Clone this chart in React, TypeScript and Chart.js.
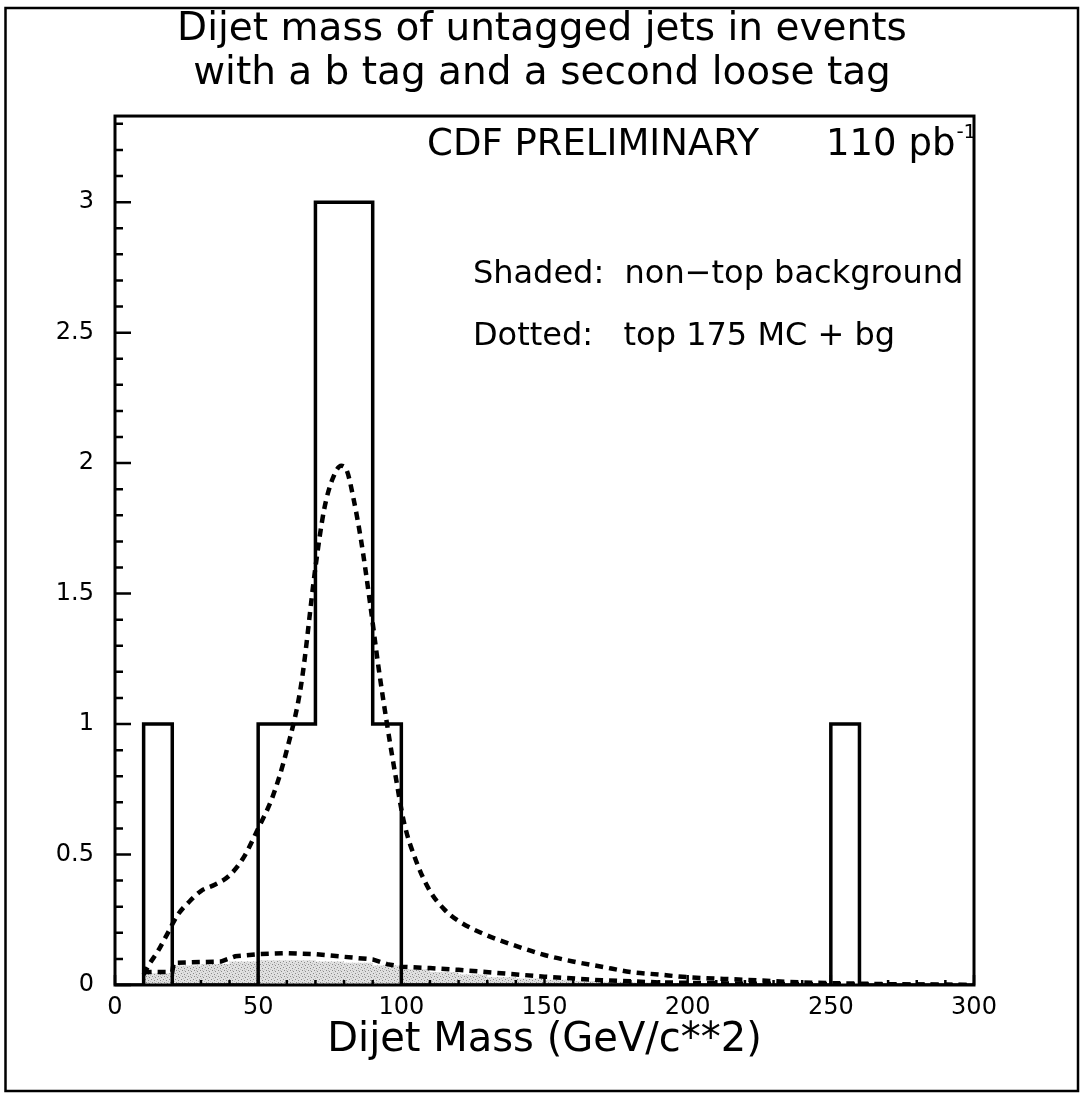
import React, { useEffect, useRef } from 'react';
import { Chart, registerables } from 'chart.js';

Chart.register(...registerables);

// ---------- data ----------
const binLeftEdges = [0, 10, 20, 30, 40, 50, 60, 70, 80, 90, 100, 110, 120, 130, 140, 150, 160, 170, 180, 190, 200, 210, 220, 230, 240, 250, 260, 270, 280, 290];
const binUpperEdge = 300;
const observedCounts = [0, 1, 0, 0, 0, 1, 1, 3, 3, 1, 0, 0, 0, 0, 0, 0, 0, 0, 0, 0, 0, 0, 0, 0, 0, 1, 0, 0, 0, 0];
const nonTopBackground = [0, 0.045, 0.075, 0.08, 0.09, 0.095, 0.095, 0.09, 0.085, 0.075, 0.06, 0.05, 0.04, 0.03, 0.025, 0.02, 0.015, 0.012, 0.01, 0.008, 0.006, 0.005, 0.004, 0.003, 0.003, 0.002, 0.002, 0.001, 0.001, 0];

const topMcMass = [10, 12, 15, 18, 22, 26, 30, 35, 40, 45, 50, 55, 60, 65, 70, 73, 76, 79, 81, 83, 86, 89, 92, 95, 98, 101, 105, 110, 115, 120, 130, 140, 150, 160, 170, 180, 190, 200, 220, 240, 260, 280, 300];
const topMcPlusBg = [0.04, 0.08, 0.13, 0.19, 0.27, 0.32, 0.36, 0.385, 0.42, 0.49, 0.6, 0.72, 0.9, 1.15, 1.6, 1.82, 1.94, 1.99, 1.97, 1.88, 1.7, 1.47, 1.22, 1.0, 0.8, 0.62, 0.48, 0.36, 0.29, 0.245, 0.19, 0.15, 0.115, 0.09, 0.07, 0.05, 0.04, 0.03, 0.02, 0.01, 0.005, 0.002, 0];

const bgMass = [10, 20, 20.5, 30, 37, 42, 50, 60, 70, 80, 90, 95, 100, 110, 120, 135, 150, 170, 190, 220, 260, 300];
const bgCurve = [0.05, 0.05, 0.085, 0.088, 0.09, 0.11, 0.118, 0.122, 0.118, 0.108, 0.098, 0.08, 0.07, 0.065, 0.058, 0.045, 0.032, 0.018, 0.01, 0.005, 0.002, 0];

const titleLines = ['Dijet mass of untagged jets in events', 'with a b tag and a second loose tag'];
const xAxisTitle = 'Dijet Mass (GeV/c**2)';
const prelimText = 'CDF PRELIMINARY';
const lumiText = '110 pb';
const lumiExp = '-1';
const legendShaded = 'Shaded:  non\u2212top background';
const legendDotted = 'Dotted:   top 175 MC + bg';

const FONT = '"DejaVu Sans", sans-serif';

function stepPoints(edges: number[], vals: number[], upper: number) {
  const pts = edges.map((e, i) => ({ x: e, y: vals[i] }));
  pts.push({ x: upper, y: vals[vals.length - 1] });
  return pts;
}

function makePattern(): CanvasPattern | string {
  const c = document.createElement('canvas');
  c.width = 6;
  c.height = 6;
  const g = c.getContext('2d');
  if (!g) return '#d0d0d0';
  g.fillStyle = '#e0e0e0';
  g.fillRect(0, 0, 6, 6);
  g.fillStyle = '#8a8a8a';
  g.fillRect(1, 1, 1, 1);
  g.fillRect(4, 2, 1, 1);
  g.fillRect(2, 4, 1, 1);
  g.fillRect(5, 5, 1, 1);
  g.fillStyle = '#bdbdbd';
  g.fillRect(3, 0, 1, 1);
  g.fillRect(0, 3, 1, 1);
  g.fillRect(4, 4, 1, 1);
  const p = g.createPattern(c, 'repeat');
  return p || '#d0d0d0';
}

const decorPlugin = {
  id: 'decor',
  afterDraw(chart: any) {
    const { ctx, chartArea: a, scales } = chart;
    const x = scales.x;
    const y = scales.y;
    ctx.save();
    ctx.strokeStyle = '#000';
    ctx.fillStyle = '#000';
    // outer frame
    ctx.lineWidth = 2.5;
    ctx.strokeRect(5.5, 8, 1072.5, 1083);
    // plot box
    ctx.lineWidth = 3;
    ctx.strokeRect(a.left, a.top, a.right - a.left, a.bottom - a.top);
    // y ticks (inward)
    ctx.lineWidth = 2.5;
    ctx.beginPath();
    for (let i = 0; i <= 33; i++) {
      const py = y.getPixelForValue(i / 10);
      const len = i % 5 === 0 ? 16 : 8;
      ctx.moveTo(a.left, py);
      ctx.lineTo(a.left + len, py);
    }
    // x ticks (inward)
    for (let v = 0; v <= 300; v += 10) {
      const px = x.getPixelForValue(v);
      const len = v % 50 === 0 ? 10 : 5;
      ctx.moveTo(px, a.bottom);
      ctx.lineTo(px, a.bottom - len);
    }
    ctx.stroke();
    // texts
    ctx.textBaseline = 'alphabetic';
    ctx.textAlign = 'left';
    ctx.font = `37px ${FONT}`;
    ctx.fillText(prelimText, x.getPixelForValue(109), a.top + 39);
    ctx.textAlign = 'right';
    ctx.fillText(lumiText, x.getPixelForValue(293.5), a.top + 39);
    ctx.textAlign = 'left';
    ctx.font = `20px ${FONT}`;
    ctx.fillText(lumiExp, x.getPixelForValue(293.5) + 1, a.top + 22);
    ctx.font = `32px ${FONT}`;
    ctx.fillText(legendShaded, x.getPixelForValue(125), a.top + 167);
    ctx.fillText(legendDotted, x.getPixelForValue(125), a.top + 229);
    ctx.restore();
  },
};

export default function App() {
  const ref = useRef<HTMLCanvasElement | null>(null);

  useEffect(() => {
    if (!ref.current) return;
    const pattern = makePattern();
    const chart = new Chart(ref.current, {
      type: 'line',
      data: {
        datasets: [
          {
            label: 'Data',
            data: stepPoints(binLeftEdges, observedCounts, binUpperEdge),
            stepped: true,
            borderColor: '#000',
            borderWidth: 3.5,
            pointRadius: 0,
            fill: false,
            order: 0,
          },
          {
            label: 'top 175 MC + bg',
            data: topMcMass.map((m, i) => ({ x: m, y: topMcPlusBg[i] })),
            borderColor: '#000',
            borderWidth: 4.5,
            borderDash: [8, 6],
            cubicInterpolationMode: 'monotone',
            pointRadius: 0,
            fill: false,
            order: 1,
          },
          {
            label: 'bg curve',
            data: bgMass.map((m, i) => ({ x: m, y: bgCurve[i] })),
            borderColor: '#000',
            borderWidth: 4.5,
            borderDash: [8, 6],
            tension: 0,
            pointRadius: 0,
            fill: false,
            order: 2,
          },
          {
            label: 'non-top background',
            data: stepPoints(binLeftEdges, nonTopBackground, binUpperEdge),
            stepped: true,
            borderWidth: 0,
            borderColor: 'rgba(0,0,0,0)',
            backgroundColor: pattern as any,
            pointRadius: 0,
            fill: 'origin',
            order: 3,
          },
        ],
      },
      options: {
        responsive: false,
        animation: false,
        devicePixelRatio: 1,
        layout: { padding: 0 },
        plugins: {
          legend: { display: false },
          tooltip: { enabled: false },
          title: {
            display: true,
            text: titleLines,
            color: '#000',
            font: { family: FONT, size: 39, weight: 'normal', lineHeight: 1.13 },
            padding: { top: 8, bottom: 19.9 },
          },
        },
        scales: {
          x: {
            type: 'linear',
            min: 0,
            max: 300,
            grid: { display: false },
            border: { display: false },
            ticks: {
              stepSize: 50,
              color: '#000',
              font: { family: FONT, size: 24 },
              padding: 0,
              maxRotation: 0,
            },
            title: {
              display: true,
              text: xAxisTitle,
              color: '#000',
              font: { family: FONT, size: 40, lineHeight: 1.2 },
              padding: { top: 0, bottom: 29 },
            },
            afterFit: (s: any) => {
              s.height = 109;
            },
          },
          y: {
            type: 'linear',
            min: 0,
            max: 3.33,
            grid: { display: false },
            border: { display: false },
            ticks: {
              stepSize: 0.5,
              includeBounds: false,
              color: '#000',
              font: { family: FONT, size: 24 },
              padding: 13,
              callback: (v: any) => String(Number(v)),
            },
            afterFit: (s: any) => {
              s.width = 115;
            },
          },
          yRight: {
            type: 'linear',
            position: 'right',
            min: 0,
            max: 3.33,
            grid: { display: false },
            border: { display: false },
            ticks: { display: false },
            afterFit: (s: any) => {
              s.width = 110;
            },
          },
        },
      },
      plugins: [decorPlugin],
    } as any);
    return () => chart.destroy();
  }, []);

  return (
    <div style={{ position: 'fixed', left: 0, top: 0, width: 1084, height: 1094, background: '#fff' }}>
      <canvas ref={ref} width={1084} height={1094} style={{ display: 'block' }} />
    </div>
  );
}
